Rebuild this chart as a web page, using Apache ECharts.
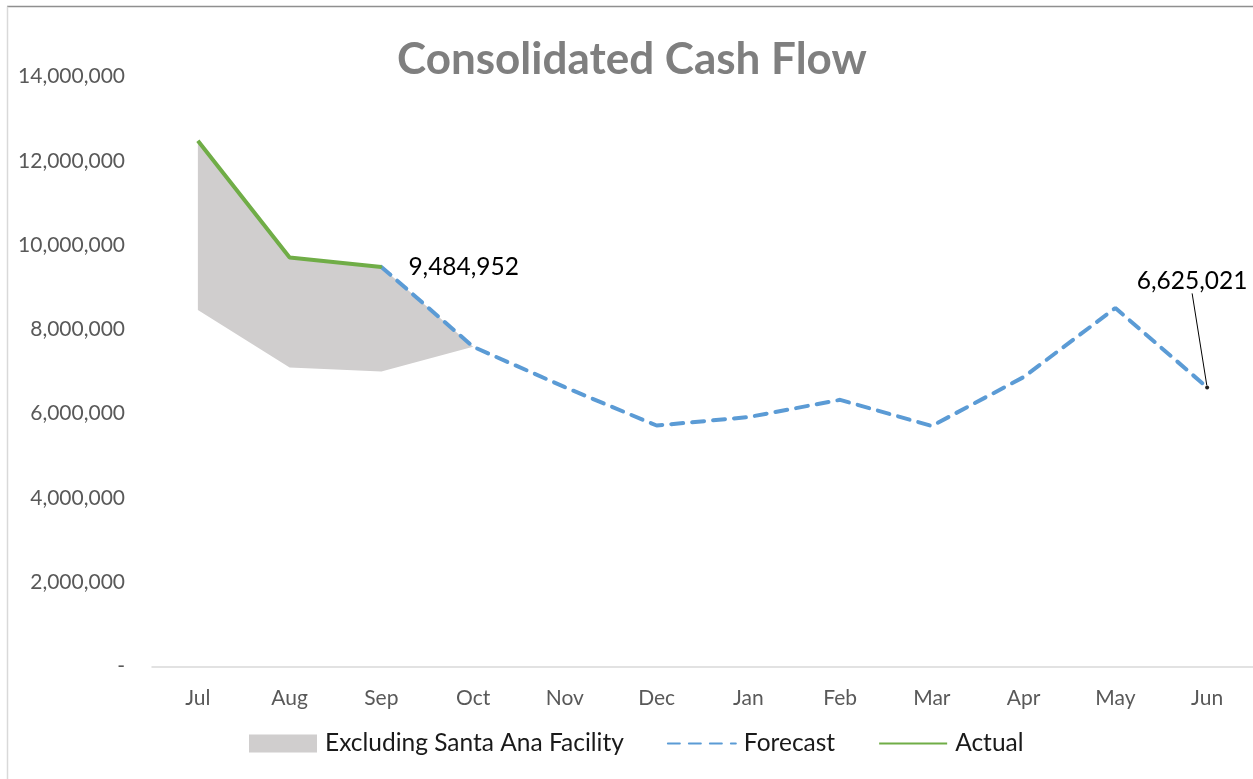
<!DOCTYPE html>
<html>
<head>
<meta charset="utf-8">
<script src="https://cdn.jsdelivr.net/npm/echarts@6/dist/echarts.min.js"></script>
<style>
html,body{margin:0;padding:0;background:#fff;}
#chart{width:1253px;height:779px;}
</style>
</head>
<body>
<div id="chart"></div>
<script>
const categories = ['Jul','Aug','Sep','Oct','Nov','Dec','Jan','Feb','Mar','Apr','May','Jun'];
const actual = [12480000, 9710000, 9484952, null, null, null, null, null, null, null, null, null];
const forecast = [null, null, 9484952, 7590000, 6630000, 5720000, 5920000, 6330000, 5710000, 6870000, 8510000, 6625021];
const excludingSantaAna = [8460000, 7100000, 7000000, 7590000, null, null, null, null, null, null, null, null];
const yTickValues = [0, 2000000, 4000000, 6000000, 8000000, 10000000, 12000000, 14000000];

const FONT = 'Lato';
const fmt = v => v === 0 ? '-' : v.toLocaleString('en-US');

// gray band: from the excluding value up to the actual/forecast line
const bandTop = categories.map((c, i) => actual[i] != null ? actual[i] : forecast[i]);
const bandBase = excludingSantaAna.slice();
const bandHeight = excludingSantaAna.map((v, i) => v == null ? null : bandTop[i] - v);

const labelIdxActual = 2;   // Sep
const labelIdxForecast = 11; // Jun

const actualData = actual.map((v, i) => i === labelIdxActual
  ? { value: v, symbolSize: 2, itemStyle: { color: '#70ad47', opacity: 1 },
      label: { show: true, position: 'right', distance: 26, formatter: p => fmt(p.value), color: '#000', fontSize: 24.5, fontFamily: FONT } }
  : v);
const forecastData = forecast.map((v, i) => i === labelIdxForecast
  ? { value: v, symbolSize: 4, itemStyle: { color: '#1f1f1f', opacity: 1 },
      label: { show: true, position: 'top', distance: 5, formatter: p => fmt(p.value), color: '#000', fontSize: 24.5, fontFamily: FONT },
      labelLine: { show: true, lineStyle: { color: '#000', width: 1 } } }
  : v);

const chart = echarts.init(document.getElementById('chart'), null, { renderer: 'canvas' });
chart.setOption({
  animation: false,
  backgroundColor: '#fff',
  title: {
    text: 'Consolidated Cash Flow',
    left: 392,
    top: 33,
    textStyle: { fontFamily: FONT, fontWeight: 'bold', fontSize: 44, color: '#7f7f7f' }
  },
  legend: {
    bottom: 18,
    left: 244,
    itemWidth: 68,
    itemHeight: 18,
    itemGap: 43,
    textStyle: { fontFamily: FONT, fontSize: 24.5, color: '#1a1a1a', padding: [0, 0, 0, 3] },
    data: [
      { name: 'Excluding Santa Ana Facility', icon: 'rect', itemStyle: { color: '#d0cece' } },
      { name: 'Forecast', itemStyle: { opacity: 0 } },
      { name: 'Actual', itemStyle: { opacity: 0 } }
    ]
  },
  grid: { left: 152, top: 76.7, width: 1104, height: 589.8 },
  xAxis: {
    type: 'category',
    data: categories,
    boundaryGap: true,
    axisLine: { show: true, lineStyle: { color: '#d9d9d9', width: 1.5 } },
    axisTick: { show: false },
    axisLabel: { fontFamily: FONT, fontSize: 21, color: '#595959', margin: 21 },
    splitLine: { show: false }
  },
  yAxis: {
    type: 'value',
    min: yTickValues[0],
    max: yTickValues[yTickValues.length - 1],
    interval: yTickValues[1] - yTickValues[0],
    axisLine: { show: false },
    axisTick: { show: false },
    splitLine: { show: false },
    axisLabel: { fontFamily: FONT, fontSize: 21, color: '#595959', margin: 27, formatter: fmt }
  },
  graphic: [
    { type: 'line', shape: { x1: 7, y1: 6.5, x2: 1253, y2: 6.5 }, style: { stroke: '#8f8f8f', lineWidth: 1.5 }, silent: true },
    { type: 'line', shape: { x1: 7.5, y1: 6.5, x2: 7.5, y2: 779 }, style: { stroke: '#d9d9d9', lineWidth: 1.5 }, silent: true }
  ],
  series: [
    {
      name: 'base',
      type: 'line',
      stack: 'band',
      data: bandBase,
      symbol: 'none',
      lineStyle: { width: 0, opacity: 0 },
      silent: true,
      z: 1
    },
    {
      name: 'Excluding Santa Ana Facility',
      type: 'line',
      stack: 'band',
      data: bandHeight,
      symbol: 'none',
      color: '#d0cece',
      lineStyle: { width: 0, opacity: 0 },
      areaStyle: { color: '#d0cece', opacity: 1 },
      z: 1
    },
    {
      name: 'Forecast',
      type: 'line',
      data: forecastData,
      color: '#5b9bd5',
      symbol: 'circle',
      symbolSize: 0,
      showSymbol: true,
      showAllSymbol: true,
      itemStyle: { opacity: 0 },
      lineStyle: { color: '#5b9bd5', width: 4, type: [12, 9], cap: 'round' },
      labelLayout: p => p.dataIndex === labelIdxForecast ? { dx: -15, dy: -87 } : null,
      z: 3
    },
    {
      name: 'Actual',
      type: 'line',
      data: actualData,
      color: '#70ad47',
      symbol: 'circle',
      symbolSize: 0,
      showSymbol: true,
      showAllSymbol: true,
      itemStyle: { opacity: 0 },
      lineStyle: { color: '#70ad47', width: 4 },
      z: 4
    }
  ]
});
</script>
</body>
</html>
